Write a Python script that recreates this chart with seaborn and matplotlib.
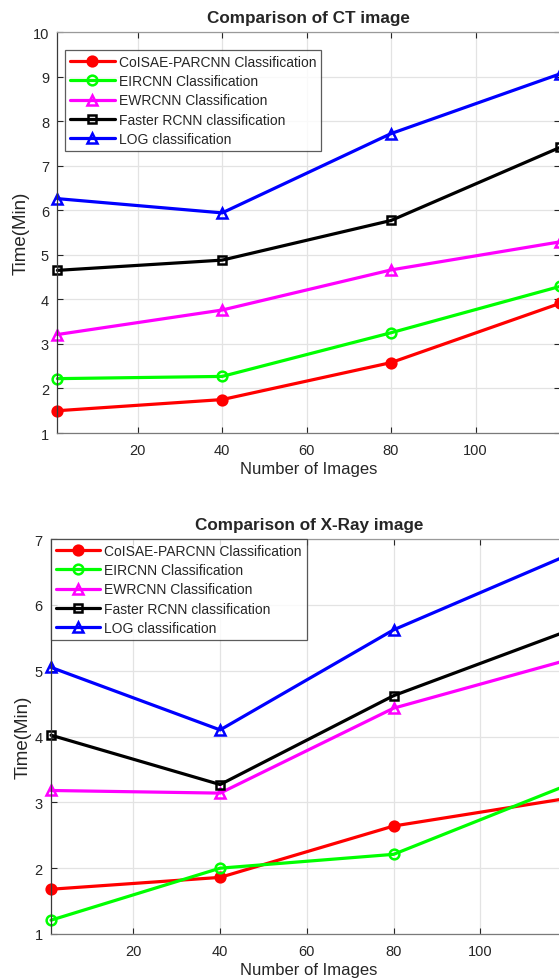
import numpy as np
import pandas as pd
import seaborn as sns
import matplotlib.pyplot as plt

# values
n_images = [1, 40, 80, 120]
methods = [
    "CoISAE-PARCNN Classification",
    "EIRCNN Classification",
    "EWRCNN Classification",
    "Faster RCNN classification",
    "LOG classification",
]
ct_coisae = [1.50, 1.75, 2.58, 3.91]
ct_eircnn = [2.22, 2.27, 3.25, 4.29]
ct_ewrcnn = [3.21, 3.76, 4.66, 5.29]
ct_faster = [4.65, 4.88, 5.77, 7.41]
ct_log = [6.26, 5.94, 7.72, 9.06]

xr_coisae = [1.68, 1.86, 2.64, 3.06]
xr_eircnn = [1.21, 2.00, 2.21, 3.26]
xr_ewrcnn = [3.18, 3.14, 4.43, 5.16]
xr_faster = [4.02, 3.27, 4.62, 5.60]
xr_log = [5.05, 4.10, 5.62, 6.75]

colors = ["#ff0000", "#00ff00", "#ff00ff", "#000000", "#0000ff"]
markers = ["o", "o", "^", "s", "^"]
faces = ["#ff0000", "none", "none", "none", "none"]
msizes = [7, 7, 7.5, 5.5, 7.5]

sns.set_style("ticks")
plt.rcParams["font.family"] = ["Liberation Sans", "DejaVu Sans"]

W, H = 559, 979
fig = plt.figure(figsize=(W / 100, H / 100), dpi=100)
ax_ct = fig.add_axes([57.4 / W, (H - 434) / H, 502.6 / W, 401 / H])
ax_xr = fig.add_axes([51 / W, (H - 935) / H, 516 / W, 395 / H])


def draw_panel(ax, series, title, ylim, legend_anchor):
    for vals, name, c, m, fc, ms in zip(series, methods, colors, markers, faces, msizes):
        sns.lineplot(
            x=n_images, y=vals, ax=ax, color=c, marker=m, markersize=ms,
            markerfacecolor=fc, markeredgecolor=c, markeredgewidth=1.8,
            linewidth=2.3, label=name, clip_on=False,
        )
    ax.set_xlim(1, 120)
    ax.set_ylim(*ylim)
    ax.set_xticks([20, 40, 60, 80, 100])
    ax.set_yticks(range(ylim[0], ylim[1] + 1))
    ax.grid(True, color="#e3e3e3", linewidth=0.9)
    ax.set_axisbelow(True)
    ax.tick_params(direction="in", top=True, right=True, labelsize=10.5,
                   colors="#262626", length=4)
    ax.tick_params(axis="x", pad=7)
    ax.tick_params(axis="y", pad=6)
    for s in ax.spines.values():
        s.set_color("#3a3a3a")
        s.set_linewidth(0.9)
    ax.spines["top"].set_color("#9a9a9a")
    ax.spines["bottom"].set_color("#7a7a7a")
    ax.set_xlabel("Number of Images", fontsize=12, color="#262626", labelpad=3)
    ax.set_ylabel("Time(Min)", fontsize=13.5, color="#262626", labelpad=2)
    ax.set_title(title, fontsize=12.3, fontweight="bold", pad=7)
    leg = ax.legend(loc="upper left", bbox_to_anchor=legend_anchor,
                    fontsize=10, frameon=True, fancybox=False,
                    handlelength=3.2, handletextpad=0.3, labelspacing=0.38,
                    borderpad=0.35, borderaxespad=0)
    leg.get_frame().set_edgecolor("#333333")
    leg.get_frame().set_linewidth(0.9)
    leg.set_zorder(5)


draw_panel(ax_ct, [ct_coisae, ct_eircnn, ct_ewrcnn, ct_faster, ct_log],
           "Comparison of CT image", (1, 10), (8 / 502.6, 1 - 18 / 401))
draw_panel(ax_xr, [xr_coisae, xr_eircnn, xr_ewrcnn, xr_faster, xr_log],
           "Comparison of X-Ray image", (1, 7), (0, 1))

fig.savefig("out.png", dpi=100, facecolor="white")
